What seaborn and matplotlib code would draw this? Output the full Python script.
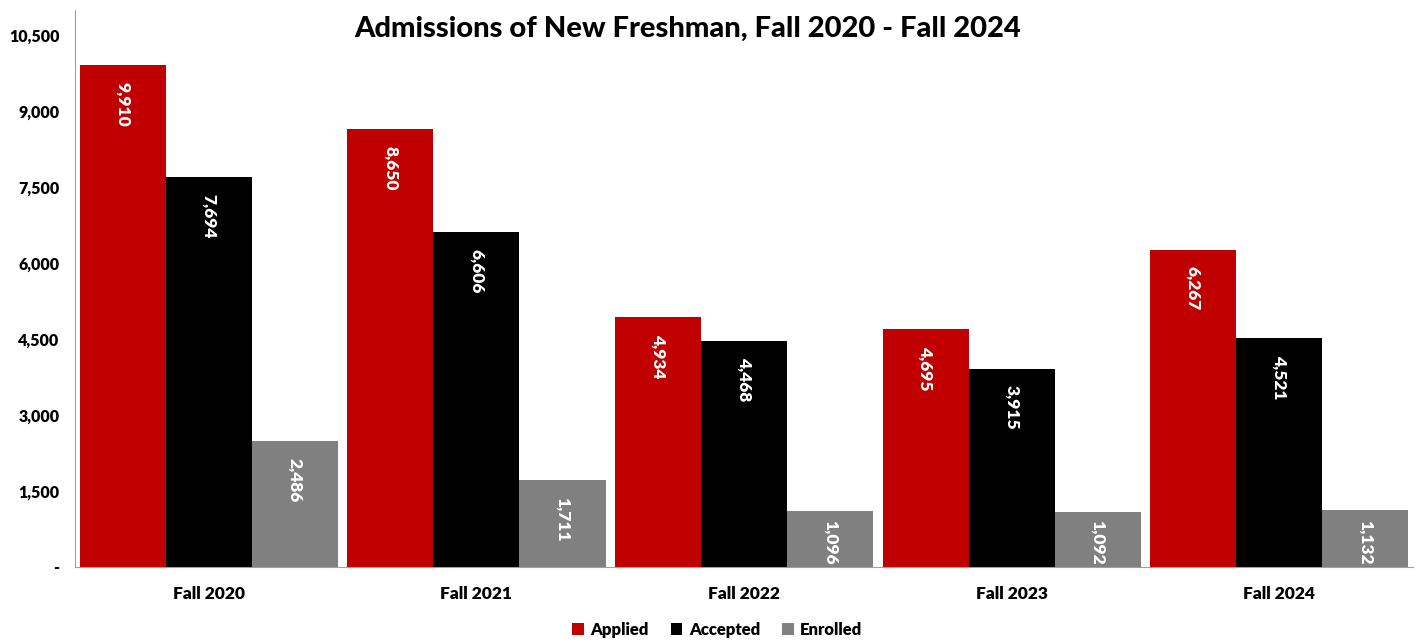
import matplotlib
matplotlib.use("Agg")
import matplotlib.pyplot as plt
import matplotlib.ticker as mticker
import pandas as pd
import seaborn as sns

# ── Data ─────────────────────────────────────────────────
terms = ["Fall 2020", "Fall 2021", "Fall 2022", "Fall 2023", "Fall 2024"]
applied = [9910, 8650, 4934, 4695, 6267]
accepted = [7694, 6606, 4468, 3915, 4521]
enrolled = [2486, 1711, 1096, 1092, 1132]
series = ["Applied", "Accepted", "Enrolled"]
colors = ["#C00000", "#000000", "#808080"]

df = pd.DataFrame({"Term": terms, "Applied": applied,
                   "Accepted": accepted, "Enrolled": enrolled})
long_df = df.melt(id_vars="Term", var_name="Status", value_name="Count")

sns.set_style("white")
plt.rcParams["font.family"] = ["Lato", "DejaVu Sans"]
plt.rcParams["font.weight"] = "bold"
plt.rcParams["text.color"] = "black"
plt.rcParams["xtick.color"] = "black"
plt.rcParams["ytick.color"] = "black"

fig = plt.figure(figsize=(14.26, 6.44), dpi=100)
ax = fig.add_axes([0.0526, 0.1196, 0.9384, 0.865])

sns.barplot(data=long_df, x="Term", y="Count", hue="Status",
            hue_order=series, palette=colors, width=0.965,
            saturation=1, linewidth=0, ax=ax, legend=True)

ax.set_xlim(-0.5, len(terms) - 0.5)
ax.set_ylim(0, 11000)
ax.set_yticks(range(0, 10501, 1500))
ax.yaxis.set_major_formatter(
    mticker.FuncFormatter(lambda v, p: "-" if v == 0 else f"{v:,.0f}"))
ax.set_xlabel("")
ax.set_ylabel("")

# value labels, rotated, inside the top of each bar (pushed up on short bars)
labels = []
for cont in ax.containers:
    for bar in cont:
        h = bar.get_height()
        t = ax.annotate(f"{h:,.0f}", (bar.get_x() + bar.get_width() / 2, h),
                        xytext=(0, -12), textcoords="offset points",
                        ha="center", va="top", rotation=270,
                        color="white", fontsize=12.5, fontweight="heavy")
        labels.append((t, bar))

fig.canvas.draw()
r = fig.canvas.get_renderer()
for t, bar in labels:
    bb = t.get_window_extent(r)
    bar_bb = bar.get_window_extent(r)
    if bb.y0 < bar_bb.y0 + 2:
        shift_px = (bar_bb.y0 + 2) - bb.y0
        t.xyann = (0, -12 + shift_px * 72 / fig.dpi)

ax.set_xticks([i + 0.5 for i in range(-1, len(terms))], minor=True)
ax.tick_params(axis="x", which="major", length=0, pad=14, labelsize=12.5,
               labelcolor="black")
ax.tick_params(axis="x", which="minor", length=5, color="#A0A0A0",
               direction="out")
ax.tick_params(axis="y", length=5, color="#A0A0A0", direction="out",
               labelsize=11.5, pad=6, labelcolor="black")
for lab in ax.get_xticklabels() + ax.get_yticklabels():
    lab.set_fontweight("heavy")

sns.despine(ax=ax)
for side in ["left", "bottom"]:
    ax.spines[side].set_color("#A0A0A0")

fig.text(0.4825, 0.975, "Admissions of New Freshman, Fall 2020 - Fall 2024",
         ha="center", va="top", fontsize=21, fontweight="black",
         color="black")

ax.legend(loc="center", bbox_to_anchor=(0.48, -0.113), ncol=3,
          frameon=False, handlelength=0.7, handleheight=0.7,
          handletextpad=0.4, columnspacing=1.3,
          prop={"weight": "heavy", "size": 12})

fig.savefig("out.png", dpi=100)
